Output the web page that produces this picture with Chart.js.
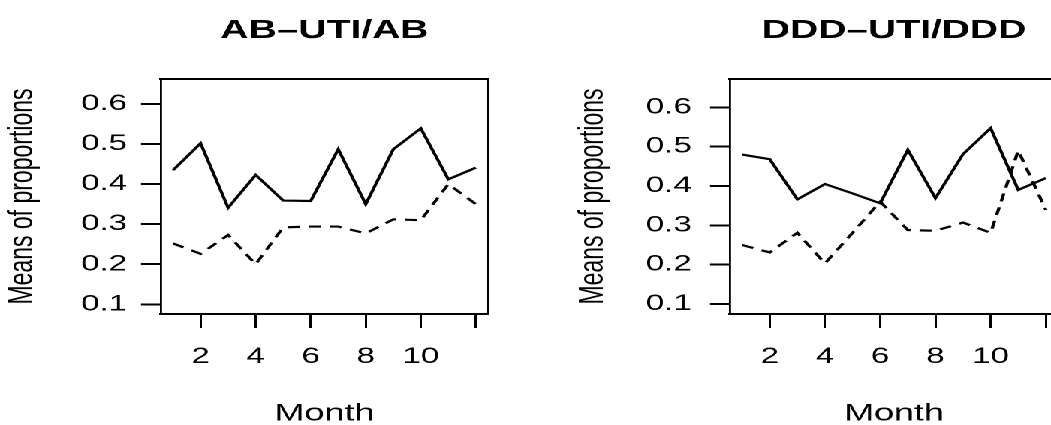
<!DOCTYPE html>
<html>
<head>
<meta charset="utf-8">
<script src="https://cdn.jsdelivr.net/npm/chart.js@4/dist/chart.umd.min.js"></script>
<style>
  html, body { margin: 0; padding: 0; background: #fff; overflow: hidden; }
  /* the figure is wide and flat, so draw narrow and stretch sideways */
  #stage { position: absolute; left: 0; top: 0; width: 720px; height: 425px;
           transform: scaleX(1.50143); transform-origin: 0 0; }
  .panel { position: absolute; top: 0; }
</style>
</head>
<body>
<div id="stage">
  <div class="panel" style="left:0"><canvas id="ab" width="350" height="425"></canvas></div>
  <div class="panel" style="left:350px"><canvas id="ddd" width="370" height="425"></canvas></div>
</div>
<script>
var months = [1, 2, 3, 4, 5, 6, 7, 8, 9, 10, 11, 12];
var xTicks = [2, 4, 6, 8, 10, 12];
var xTickLabels = ['2', '4', '6', '8', '10', ''];
var yTicks = [0.1, 0.2, 0.3, 0.4, 0.5, 0.6];
var yTickLabels = ['0.1', '0.2', '0.3', '0.4', '0.5', '0.6'];

// AB-UTI/AB panel
var abSolid  = [0.435, 0.502, 0.341, 0.423, 0.359, 0.358, 0.487, 0.350, 0.487, 0.539, 0.412, 0.441];
var abDashed = [0.252, 0.226, 0.273, 0.200, 0.292, 0.294, 0.294, 0.277, 0.312, 0.310, 0.400, 0.350];

// DDD-UTI/DDD panel
var dddSolid  = [0.480, 0.468, 0.366, 0.405, 0.381, 0.356, 0.492, 0.369, 0.481, 0.547, 0.390, 0.420];
var dddDashed = [0.250, 0.231, 0.281, 0.203, 0.281, 0.360, 0.288, 0.286, 0.307, 0.281, 0.490, 0.339];

var FONT = '"Liberation Sans", Arial, Helvetica, sans-serif';

function points(vals) {
  return months.map(function(m, i) { return {x: m, y: vals[i]}; });
}

function labelFor(ticks, labels) {
  return function(v) {
    var i = ticks.indexOf(v);
    return i < 0 ? '' : labels[i];
  };
}

function makeChart(id, title, solid, dashed, g) {
  return new Chart(document.getElementById(id), {
    type: 'line',
    data: {
      datasets: [
        {data: points(solid), borderColor: '#000', borderWidth: 2.2, pointRadius: 0, tension: 0},
        {data: points(dashed), borderColor: '#000', borderWidth: 2.2, borderDash: [8, 6], pointRadius: 0, tension: 0}
      ]
    },
    options: {
      responsive: false,
      devicePixelRatio: 2,
      animation: false,
      layout: {padding: {left: 0, top: 0, right: g.padRight, bottom: 0}},
      plugins: {
        legend: {display: false},
        tooltip: {enabled: false},
        title: {
          display: true, text: title, color: '#000', fullSize: false,
          font: {family: FONT, size: 26, weight: 'bold', lineHeight: 1.2},
          padding: {top: 15.4, bottom: 32.4}
        }
      },
      scales: {
        x: {
          type: 'linear', position: 'bottom', min: 0.56, max: 12.44, bounds: 'data',
          afterBuildTicks: function(s) { s.ticks = xTicks.map(function(v) { return {value: v}; }); },
          afterFit: function(s) { s.height = 111; },
          grid: {display: true, drawOnChartArea: false, drawTicks: true, tickLength: 14, color: '#000', lineWidth: 1.5},
          border: {display: true, color: '#000', width: 2},
          ticks: {color: '#000', padding: 15.8, autoSkip: false, maxRotation: 0,
                  font: {family: FONT, size: 22}, callback: labelFor(xTicks, xTickLabels)},
          title: {display: true, text: 'Month', color: '#000',
                  font: {family: FONT, size: 24, lineHeight: 0.92}, padding: {top: 0, bottom: 0}}
        },
        y: {
          type: 'linear', position: 'left', min: g.yMin, max: g.yMax, bounds: 'data',
          afterBuildTicks: function(s) { s.ticks = yTicks.map(function(v) { return {value: v}; }); },
          afterFit: function(s) { s.width = g.yWidth; },
          grid: {display: true, drawOnChartArea: false, drawTicks: true, tickLength: 13.3, color: '#000', lineWidth: 2},
          border: {display: true, color: '#000', width: 1.4},
          ticks: {color: '#000', padding: g.yTickPad, autoSkip: false,
                  font: {family: FONT, size: 22}, callback: labelFor(yTicks, yTickLabels)},
          title: {display: true, text: 'Means of proportions', color: '#000',
                  font: {family: FONT, size: 23, lineHeight: 1.2}, padding: {top: g.yTitlePad, bottom: 0}}
        },
        // top and right edges of the box
        x2: {
          type: 'linear', position: 'top', min: 0, max: 1,
          grid: {display: false, drawTicks: false}, ticks: {display: false},
          border: {display: true, color: '#000', width: 2}
        },
        y2: {
          type: 'linear', position: 'right', min: 0, max: 1,
          grid: {display: false, drawTicks: false}, ticks: {display: false},
          border: {display: true, color: '#000', width: 1.4}
        }
      }
    }
  });
}

makeChart('ab', 'AB\u2013UTI/AB', abSolid, abDashed,
  {yMin: 0.0758, yMax: 0.6624, yWidth: 107.2, padRight: 25, yTickPad: 9.3, yTitlePad: 1.5});
makeChart('ddd', 'DDD\u2013UTI/DDD', dddSolid, dddDashed,
  {yMin: 0.0745, yMax: 0.672, yWidth: 136.2, padRight: 15.3, yTickPad: 12.2, yTitlePad: 31.2});
</script>
</body>
</html>
